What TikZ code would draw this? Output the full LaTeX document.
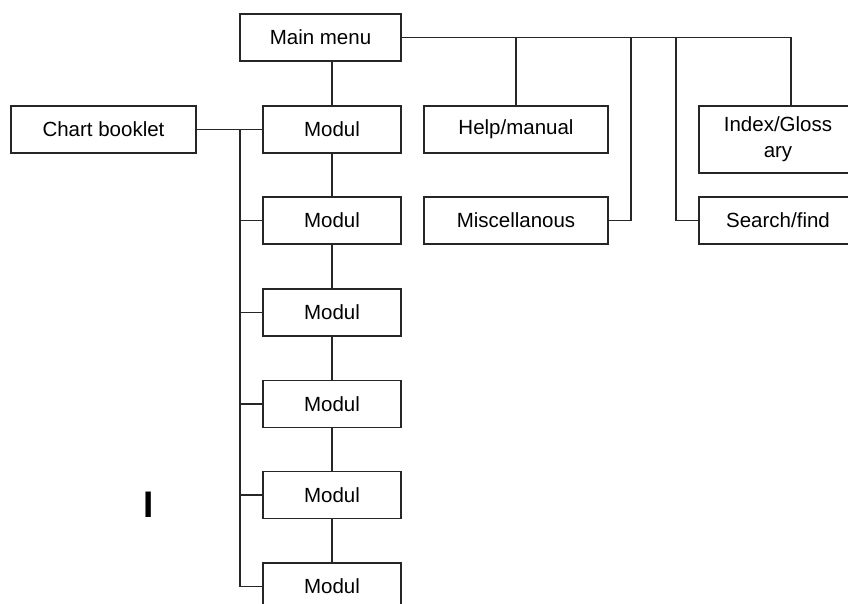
\documentclass[tikz,border=0pt]{standalone}
\usepackage{fontspec}
\setmainfont{Liberation Sans}
\begin{document}
\begin{tikzpicture}[x=1pt,y=-1pt,
  box/.style={draw=black!85,line width=1.3pt,rectangle,inner sep=0pt,minimum height=47pt,font=\fontsize{20.5}{22}\selectfont,align=center},
  conn/.style={draw=black!85,line width=1.3pt}]
\useasboundingbox (0,0) rectangle (848,604);
\clip (0,0) rectangle (848,604);
\fill[white] (0,0) rectangle (848,604);
\node[box,minimum width=161pt] (main) at (320.5,37.5) {Main menu};
\node[box,minimum width=185pt] (chart) at (103.5,129.5) {Chart booklet};
\node[box,minimum width=138pt] (m1) at (332,129.5) {Modul};
\node[box,minimum width=138pt] (m2) at (332,220.5) {Modul};
\node[box,minimum width=138pt] (m3) at (332,312.5) {Modul};
\node[box,minimum width=138pt] (m4) at (332,404) {Modul};
\node[box,minimum width=138pt] (m5) at (332,495) {Modul};
\node[box,minimum width=138pt] (m6) at (332,586.5) {Modul};
\node[box,minimum width=184pt] (help) at (516,129.5) {Help/manual};
\node[box,minimum width=184pt] (misc) at (516,220.5) {Miscellanous};
\node[box,minimum width=158pt,minimum height=67pt,font=\fontsize{20.5}{26}\selectfont] (index) at (778,139.5) {Index/Gloss\\ary};
\node[box,minimum width=158pt] (search) at (778,220.5) {Search/find};
\node[font=\fontsize{37}{40}\selectfont\bfseries] (stray) at (149,505) {I};
\coordinate (jI) at (791,37.5);
\coordinate (jM) at (631,37.5);
\coordinate (jS) at (676,37.5);
\coordinate (sp1) at (240,129.5);
\coordinate (sp6) at (240,586.5);
\draw[conn] (main.east) -- (jI) -- (jI |- index.north);
\draw[conn] (help.north |- main.east) -- (help.north);
\draw[conn] (jM) -- (jM |- misc.east) -- (misc.east);
\draw[conn] (jS) -- (jS |- search.west) -- (search.west);
\draw[conn] (m1.north |- main.south) -- (m1.north);
\draw[conn] (m1.south) -- (m2.north);
\draw[conn] (m2.south) -- (m3.north);
\draw[conn] (m3.south) -- (m4.north);
\draw[conn] (m4.south) -- (m5.north);
\draw[conn] (m5.south) -- (m6.north);
\draw[conn] (chart.east) -- (m1.west);
\draw[conn] (sp1) -- (sp6) -- (m6.west);
\draw[conn] (sp1 |- m2.west) -- (m2.west);
\draw[conn] (sp1 |- m3.west) -- (m3.west);
\draw[conn] (sp1 |- m4.west) -- (m4.west);
\draw[conn] (sp1 |- m5.west) -- (m5.west);
\end{tikzpicture}
\end{document}
